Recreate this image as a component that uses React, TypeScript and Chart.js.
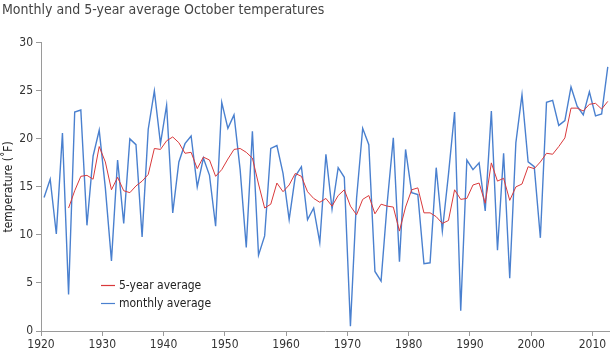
import { useEffect, useRef } from "react";
import { Chart, registerables } from "chart.js";

Chart.register(...registerables);

// ---- data ----
const years = [
  1920, 1921, 1922, 1923, 1924, 1925, 1926, 1927, 1928, 1929,
  1930, 1931, 1932, 1933, 1934, 1935, 1936, 1937, 1938, 1939,
  1940, 1941, 1942, 1943, 1944, 1945, 1946, 1947, 1948, 1949,
  1950, 1951, 1952, 1953, 1954, 1955, 1956, 1957, 1958, 1959,
  1960, 1961, 1962, 1963, 1964, 1965, 1966, 1967, 1968, 1969,
  1970, 1971, 1972, 1973, 1974, 1975, 1976, 1977, 1978, 1979,
  1980, 1981, 1982, 1983, 1984, 1985, 1986, 1987, 1988, 1989,
  1990, 1991, 1992, 1993, 1994, 1995, 1996, 1997, 1998, 1999,
  2000, 2001, 2002, 2003, 2004, 2005, 2006, 2007, 2008, 2009,
  2010, 2011, 2012,
];

const monthlyAverage = [
  13.9, 15.8, 10.1, 20.6, 3.8, 22.8, 23.0, 11.0, 18.2, 20.9,
  14.9, 7.3, 17.8, 11.2, 20.0, 19.4, 9.8, 21.0, 25.0, 19.5,
  23.5, 12.3, 17.6, 19.5, 20.3, 15.0, 18.0, 16.2, 10.9, 23.8,
  21.1, 22.5, 16.8, 8.7, 20.8, 7.9, 9.9, 19.0, 19.3, 16.4,
  11.6, 16.1, 17.1, 11.6, 12.8, 9.2, 18.4, 12.7, 17.0, 16.0,
  0.5, 13.8, 21.1, 19.4, 6.2, 5.2, 13.3, 20.1, 7.2, 18.9,
  14.4, 14.2, 7.0, 7.1, 17.0, 10.4, 16.3, 22.8, 2.1, 17.8,
  16.8, 17.5, 12.5, 22.9, 8.4, 18.5, 5.5, 19.6, 24.6, 17.6,
  17.1, 9.7, 23.8, 24.0, 21.4, 21.9, 25.4, 23.4, 22.5, 24.9,
  22.4, 22.6, 27.5,
];

const fiveYearAverage = [
  null, null, null, null, 12.8, 14.6, 16.1, 16.2, 15.8, 19.2,
  17.6, 14.7, 16.0, 14.6, 14.4, 15.1, 15.6, 16.3, 19.0, 18.9,
  19.8, 20.2, 19.6, 18.5, 18.6, 16.9, 18.1, 17.8, 16.1, 16.8,
  17.9, 18.9, 19.0, 18.6, 18.0, 15.3, 12.8, 13.2, 15.4, 14.5,
  15.2, 16.4, 16.1, 14.5, 13.8, 13.4, 13.8, 13.0, 14.1, 14.7,
  13.0, 12.1, 13.7, 14.1, 12.2, 13.2, 13.0, 12.9, 10.4, 12.9,
  14.7, 14.9, 12.3, 12.3, 11.9, 11.2, 11.5, 14.7, 13.7, 13.8,
  15.2, 15.4, 13.3, 17.5, 15.6, 15.9, 13.6, 15.0, 15.3, 17.1,
  16.9, 17.6, 18.5, 18.4, 19.2, 20.1, 23.2, 23.2, 22.9, 23.6,
  23.7, 23.1, 23.9,
];

const xTickValues = [1920, 1930, 1940, 1950, 1960, 1970, 1980, 1990, 2000, 2010];
const yTickValues = [0, 5, 10, 15, 20, 25, 30];

const titleText = "Monthly and 5-year average October temperatures";
const yAxisTitle = "temperature (\u02DAF)";
const seriesLabels = ["5-year average", "monthly average"];

// ---- style ----
const FONT = '"DejaVu Sans Condensed", "Liberation Sans", sans-serif';
const RED = "#d9393b";
const BLUE = "#4a80cf";
const AXIS = "#9a9a9a";
const TEXT = "#333333";
const pointOffset = 0.5;

const insideLegend = {
  id: "insideLegend",
  afterDraw(chart: any) {
    const { ctx, chartArea } = chart;
    ctx.save();
    ctx.font = `12px ${FONT}`;
    ctx.textBaseline = "middle";
    ctx.textAlign = "left";
    chart.data.datasets.forEach((ds: any, i: number) => {
      const y = Math.round(chartArea.bottom - 46 + i * 18) + 0.5;
      const x0 = chartArea.left + 60;
      ctx.strokeStyle = ds.borderColor;
      ctx.lineWidth = 1.2;
      ctx.beginPath();
      ctx.moveTo(x0, y);
      ctx.lineTo(x0 + 14, y);
      ctx.stroke();
      ctx.fillStyle = "#222";
      ctx.fillText(ds.label, x0 + 18, y);
    });
    ctx.restore();
  },
};

export default function App() {
  const canvasRef = useRef<HTMLCanvasElement | null>(null);

  useEffect(() => {
    if (!canvasRef.current) return;
    Chart.defaults.font.family = FONT;
    const toPoints = (vals: (number | null)[]) =>
      years.map((yr, i) => ({ x: yr + pointOffset, y: vals[i] }));

    const chart = new Chart(canvasRef.current, {
      type: "line",
      data: {
        datasets: [
          {
            label: seriesLabels[0],
            data: toPoints(fiveYearAverage) as any,
            borderColor: RED,
            borderWidth: 1,
            pointRadius: 0,
            tension: 0,
            spanGaps: false,
          },
          {
            label: seriesLabels[1],
            data: toPoints(monthlyAverage) as any,
            borderColor: BLUE,
            borderWidth: 1.4,
            pointRadius: 0,
            tension: 0,
          },
        ],
      },
      options: {
        animation: false,
        responsive: false,
        layout: { padding: { left: 2, right: 1, top: 0, bottom: 0 } },
        plugins: {
          legend: { display: false },
          tooltip: { enabled: false },
          title: {
            display: true,
            text: titleText,
            align: "start",
            color: "#444",
            font: { size: 14, weight: "normal", family: FONT },
            padding: { top: 2, bottom: 24 },
          },
        },
        scales: {
          x: {
            type: "linear",
            min: 1920,
            max: 2012.7,
            afterBuildTicks: (axis: any) => {
              axis.ticks = xTickValues.map((v) => ({ value: v }));
            },
            afterFit: (scale: any) => {
              scale.height = 29;
            },
            ticks: {
              callback: (v: any) => String(v),
              color: TEXT,
              font: { size: 12 },
              padding: 2,
              maxRotation: 0,
              autoSkip: false,
            },
            grid: {
              display: true,
              drawOnChartArea: false,
              drawTicks: true,
              tickLength: 5,
              color: AXIS,
            },
            border: { display: true, color: AXIS, width: 1 },
          },
          y: {
            type: "linear",
            min: 0,
            max: 30,
            afterBuildTicks: (axis: any) => {
              axis.ticks = yTickValues.map((v) => ({ value: v }));
            },
            afterFit: (scale: any) => {
              scale.width = 39;
            },
            ticks: {
              callback: (v: any) => String(v),
              color: TEXT,
              font: { size: 12 },
              padding: 3,
            },
            grid: {
              display: true,
              drawOnChartArea: false,
              drawTicks: true,
              tickLength: 5,
              color: AXIS,
            },
            border: { display: true, color: AXIS, width: 1 },
            title: {
              display: true,
              text: yAxisTitle,
              color: "#222",
              font: { size: 12 },
              padding: { top: 0, bottom: 0 },
            },
          },
        },
      },
      plugins: [insideLegend],
    });
    return () => chart.destroy();
  }, []);

  return (
    <div
      style={{
        position: "fixed",
        left: 0,
        top: 0,
        width: 610,
        height: 360,
        background: "#fff",
      }}
    >
      <canvas ref={canvasRef} width={610} height={360} style={{ display: "block" }} />
    </div>
  );
}
